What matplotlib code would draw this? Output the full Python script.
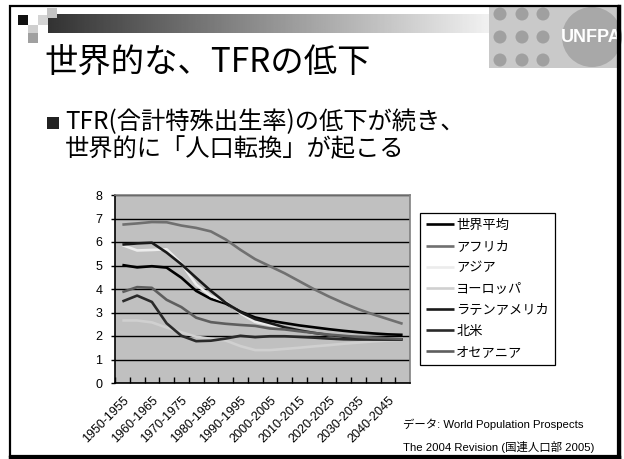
import numpy as np
import matplotlib
matplotlib.use("Agg")
import matplotlib.pyplot as plt
import matplotlib.transforms as mtrans
from matplotlib.patches import Rectangle, Circle

plt.rcParams['font.family'] = ['Noto Sans CJK JP', 'DejaVu Sans']

# datos: TFR por region (WPP 2004)
periodos = ['1950-1955', '1955-1960', '1960-1965', '1965-1970', '1970-1975',
            '1975-1980', '1980-1985', '1985-1990', '1990-1995', '1995-2000',
            '2000-2005', '2005-2010', '2010-2015', '2015-2020', '2020-2025',
            '2025-2030', '2030-2035', '2035-2040', '2040-2045', '2045-2050']

mundo = [5.02, 4.92, 4.97, 4.91, 4.48, 3.92, 3.58, 3.38, 3.04, 2.79,
         2.65, 2.55, 2.45, 2.37, 2.29, 2.22, 2.16, 2.11, 2.07, 2.05]
africa = [6.74, 6.79, 6.85, 6.84, 6.70, 6.60, 6.45, 6.11, 5.67, 5.27,
          4.97, 4.67, 4.33, 3.99, 3.68, 3.40, 3.14, 2.92, 2.72, 2.52]
asia = [5.87, 5.64, 5.66, 5.69, 5.09, 4.19, 3.70, 3.46, 2.97, 2.60,
        2.47, 2.34, 2.22, 2.12, 2.04, 1.97, 1.93, 1.91, 1.90, 1.90]
europa = [2.66, 2.66, 2.58, 2.36, 2.16, 1.97, 1.88, 1.81, 1.57, 1.40,
          1.40, 1.45, 1.50, 1.56, 1.61, 1.67, 1.72, 1.77, 1.81, 1.84]
latam = [5.89, 5.94, 5.97, 5.55, 5.05, 4.48, 3.92, 3.42, 3.02, 2.72,
         2.55, 2.37, 2.24, 2.13, 2.04, 1.97, 1.91, 1.87, 1.86, 1.86]
norteam = [3.47, 3.72, 3.45, 2.54, 2.01, 1.78, 1.80, 1.89, 2.01, 1.95,
           1.99, 1.99, 1.96, 1.93, 1.89, 1.86, 1.85, 1.85, 1.85, 1.85]
oceania = [3.87, 4.08, 4.05, 3.54, 3.23, 2.78, 2.59, 2.52, 2.47, 2.43,
           2.32, 2.28, 2.20, 2.13, 2.06, 2.01, 1.96, 1.92, 1.90, 1.88]

series = [(u'世界平均', mundo, '#000000'),
          (u'アフリカ', africa, '#707070'),
          (u'アジア', asia, '#ececec'),
          (u'ヨーロッパ', europa, '#d0d0d0'),
          (u'ラテンアメリカ', latam, '#1a1a1a'),
          (u'北米', norteam, '#2a2a2a'),
          (u'オセアニア', oceania, '#5e5e5e')]

W, H = 624, 459
fig = plt.figure(figsize=(W/100, H/100), dpi=100)
fig.patch.set_facecolor('white')

def px(x, y):
    # pixel (desde arriba a la izquierda) a fraccion de figura
    return x / W, 1 - y / H

# --- decoracion de la diapositiva ---
deco = fig.add_axes([0, 0, 1, 1], zorder=0)
deco.set_xlim(0, W)
deco.set_ylim(H, 0)
deco.axis('off')

grad = np.linspace(0.2, 0.95, 256).reshape(1, -1)
deco.imshow(grad, cmap='gray', vmin=0, vmax=1, aspect='auto',
            extent=(48, 492, 33, 14), zorder=1)
for (x0, y0, c) in [(18, 15, '#111111'), (38, 15, '#d4d4d4'), (47, 8, '#c4c4c4'),
                    (28, 25, '#cfcfcf'), (28, 33, '#a0a0a0')]:
    deco.add_patch(Rectangle((x0, y0), 10, 10, color=c, lw=0, zorder=2))

# logo
deco.add_patch(Rectangle((489, 7), 129, 61, color='#c9c9c9', lw=0, zorder=2))
for xc in [500, 522, 543]:
    for yc in [14, 37, 60]:
        deco.add_patch(Circle((xc, yc), 6.5, color='#a0a0a0', lw=0, zorder=3))
deco.add_patch(Circle((592, 37), 30, color='#a8a8a8', lw=0, zorder=3))
deco.text(591, 38, 'UNFPA', color='white', fontsize=13, fontweight='bold',
          family=['Liberation Sans Narrow', 'Liberation Sans'],
          ha='center', va='center', zorder=4)

# marco
deco.add_patch(Rectangle((10, 6), 608, 450, fill=False, ec='black', lw=1.6, zorder=5))
deco.plot([619, 619], [6, 457], color='black', lw=2.5, zorder=5)
deco.plot([10, 619], [457, 457], color='black', lw=2.5, zorder=5)

# textos
deco.text(44, 62, u'世界的な、TFRの低下', fontsize=24, ha='left', va='center', zorder=6)
deco.add_patch(Rectangle((47, 117), 12, 12, color='#222222', lw=0, zorder=6))
deco.text(65, 122, u'TFR(合計特殊出生率)の低下が続き、', fontsize=17.5,
          ha='left', va='center', zorder=6)
deco.text(65, 149, u'世界的に「人口転換」が起こる', fontsize=17.5,
          ha='left', va='center', zorder=6)
fuente = ['Liberation Sans', 'Noto Sans CJK JP']
deco.text(403, 424, u'データ: World Population Prospects', fontsize=8.2,
          family=fuente, ha='left', va='center', zorder=6)
deco.text(403, 447, u'The 2004 Revision (国連人口部 2005)', fontsize=8.2,
          family=fuente, ha='left', va='center', zorder=6)

# --- grafico ---
l, t = px(115, 195)
r, b = px(410, 383)
ax = fig.add_axes([l, b, r - l, t - b], zorder=2)
ax.set_facecolor('#c0c0c0')
x = np.arange(len(periodos))
handles = []
for nombre, vals, col in series:
    ln, = ax.plot(x, vals, color=col, lw=1.9, solid_joinstyle='round',
                  solid_capstyle='butt', label=nombre, zorder=3)
    handles.append(ln)

ax.set_xlim(-0.5, len(periodos) - 0.5)
ax.set_ylim(0, 8)
ax.set_yticks(range(0, 9))
ax.yaxis.grid(True, color='black', lw=1.0, zorder=1)
ax.set_axisbelow(True)
ax.set_xticks(x - 0.5, minor=False)
ax.set_xticks(x[::2], minor=True)
ax.set_xticklabels([])
ax.set_xticklabels(periodos[::2], minor=True, rotation=45, ha='right',
                   va='top', rotation_mode='anchor', fontsize=9, family=fuente)
desplaza = mtrans.ScaledTranslation(-9/72, 0, fig.dpi_scale_trans)
for lab in ax.xaxis.get_minorticklabels():
    lab.set_transform(lab.get_transform() + desplaza)
ax.tick_params(axis='x', which='major', direction='in', length=4, width=1, color='black')
ax.tick_params(axis='x', which='minor', length=0, pad=8)
ax.tick_params(axis='y', direction='out', length=3, width=1, labelsize=9, pad=6)
for lab in ax.get_yticklabels():
    lab.set_family(fuente)
for s in ['left', 'bottom']:
    ax.spines[s].set_color('black')
    ax.spines[s].set_linewidth(1.2)
for s in ['top', 'right']:
    ax.spines[s].set_color('#808080')
    ax.spines[s].set_linewidth(1.2)

lx, ly = px(420, 213)
leg = ax.legend(handles=handles, loc='upper left', bbox_to_anchor=(lx, ly),
                bbox_transform=fig.transFigure, fontsize=9.5, frameon=True,
                fancybox=False, edgecolor='black', framealpha=1,
                handlelength=2.1, handletextpad=0.2, labelspacing=0.62,
                borderpad=0.45, borderaxespad=0)
leg.get_frame().set_linewidth(0.9)

plt.savefig('out.png', dpi=100)
